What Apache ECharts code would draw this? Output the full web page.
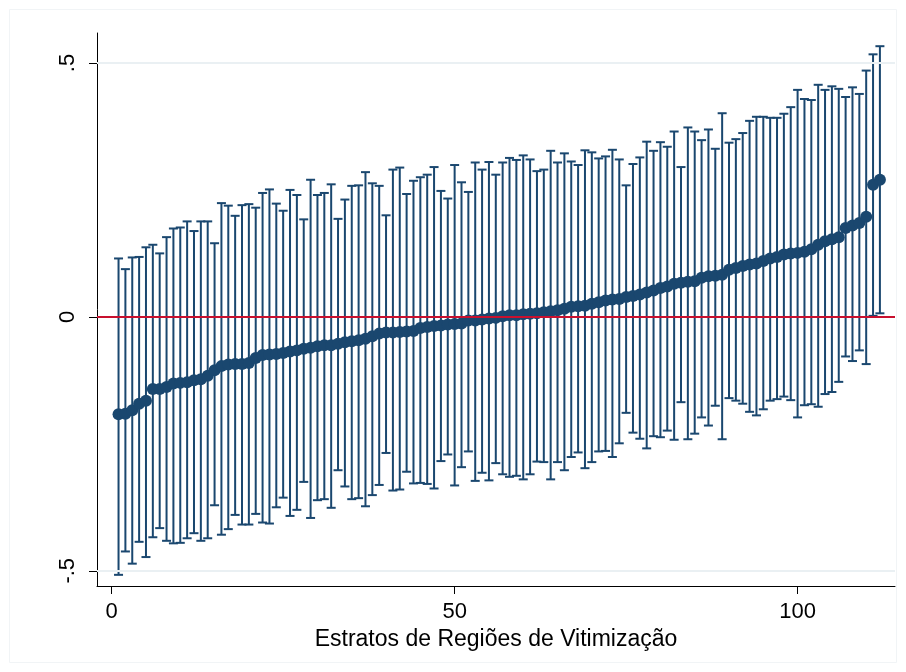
<!DOCTYPE html>
<html>
<head>
<meta charset="utf-8">
<script src="https://cdn.jsdelivr.net/npm/echarts@6/dist/echarts.min.js"></script>
<style>
  html, body { margin: 0; padding: 0; background: #ffffff; }
  #chart { width: 906px; height: 672px; }
</style>
</head>
<body>
<div id="chart"></div>
<script>
// Stratum index (1..112), point estimate and 95% interval bounds
const strata = Array.from({ length: 112 }, (_, i) => i + 1);

const estimate = [
  -0.192, -0.191, -0.184, -0.171, -0.165, -0.142, -0.142, -0.138, -0.131, -0.130,
  -0.129, -0.125, -0.123, -0.116, -0.105, -0.097, -0.094, -0.093, -0.093, -0.091,
  -0.081, -0.075, -0.074, -0.073, -0.071, -0.068, -0.066, -0.063, -0.061, -0.058,
  -0.056, -0.056, -0.053, -0.050, -0.048, -0.046, -0.043, -0.038, -0.033, -0.031,
  -0.031, -0.030, -0.029, -0.028, -0.022, -0.020, -0.018, -0.017, -0.015, -0.014,
  -0.013, -0.007, -0.007, -0.005, -0.003, -0.002, 0.001, 0.003, 0.003, 0.005,
  0.006, 0.007, 0.009, 0.011, 0.013, 0.016, 0.020, 0.021, 0.022, 0.026,
  0.029, 0.032, 0.034, 0.035, 0.039, 0.041, 0.044, 0.048, 0.052, 0.057,
  0.060, 0.065, 0.067, 0.069, 0.070, 0.077, 0.080, 0.081, 0.083, 0.093,
  0.096, 0.100, 0.103, 0.105, 0.110, 0.115, 0.118, 0.123, 0.125, 0.126,
  0.128, 0.133, 0.142, 0.149, 0.153, 0.157, 0.175, 0.180, 0.185, 0.197,
  0.260, 0.270
];

const upper = [
  0.115, 0.094, 0.117, 0.118, 0.137, 0.142, 0.125, 0.157, 0.174, 0.176,
  0.188, 0.169, 0.188, 0.188, 0.145, 0.224, 0.219, 0.199, 0.220, 0.222,
  0.215, 0.244, 0.251, 0.223, 0.209, 0.250, 0.240, 0.192, 0.270, 0.240,
  0.244, 0.261, 0.193, 0.231, 0.258, 0.259, 0.285, 0.263, 0.258, 0.200,
  0.290, 0.294, 0.242, 0.268, 0.275, 0.280, 0.295, 0.248, 0.233, 0.299,
  0.265, 0.246, 0.304, 0.290, 0.305, 0.280, 0.304, 0.313, 0.309, 0.318,
  0.310, 0.287, 0.290, 0.327, 0.304, 0.322, 0.306, 0.299, 0.328, 0.324,
  0.312, 0.316, 0.329, 0.310, 0.259, 0.301, 0.314, 0.345, 0.327, 0.344,
  0.335, 0.365, 0.295, 0.373, 0.365, 0.348, 0.369, 0.331, 0.401, 0.343,
  0.350, 0.362, 0.386, 0.394, 0.394, 0.392, 0.392, 0.400, 0.413, 0.447,
  0.429, 0.427, 0.457, 0.447, 0.454, 0.449, 0.433, 0.452, 0.439, 0.485,
  0.517, 0.533
];

const lower = [
  -0.508, -0.462, -0.486, -0.443, -0.473, -0.434, -0.416, -0.441, -0.446, -0.445,
  -0.436, -0.426, -0.441, -0.436, -0.371, -0.429, -0.418, -0.390, -0.409, -0.409,
  -0.388, -0.405, -0.407, -0.375, -0.356, -0.392, -0.380, -0.325, -0.396, -0.361,
  -0.359, -0.376, -0.302, -0.334, -0.359, -0.357, -0.373, -0.351, -0.331, -0.268,
  -0.342, -0.340, -0.305, -0.328, -0.327, -0.329, -0.338, -0.284, -0.271, -0.332,
  -0.296, -0.265, -0.323, -0.307, -0.322, -0.288, -0.310, -0.315, -0.313, -0.320,
  -0.310, -0.285, -0.286, -0.320, -0.286, -0.302, -0.276, -0.267, -0.298, -0.286,
  -0.265, -0.264, -0.276, -0.249, -0.189, -0.228, -0.240, -0.259, -0.235, -0.237,
  -0.224, -0.242, -0.168, -0.241, -0.230, -0.198, -0.214, -0.175, -0.241, -0.160,
  -0.165, -0.171, -0.187, -0.194, -0.182, -0.165, -0.162, -0.157, -0.164, -0.198,
  -0.174, -0.172, -0.177, -0.152, -0.148, -0.128, -0.078, -0.087, -0.066, -0.093,
  0.002, 0.007
];

const xTicks = [0, 50, 100];
const yTicks = [-0.5, 0, 0.5];
const yTickText = { '-0.5': '-.5', '0': '0', '0.5': '.5' };

const navy = '#1a476f';
const font = 'Liberation Sans, Arial, Helvetica, sans-serif';

const intervalData = strata.map((x, i) => [x, lower[i], upper[i]]);
const pointData = strata.map((x, i) => [x, estimate[i]]);

const chart = echarts.init(document.getElementById('chart'), null, { renderer: 'canvas' });

chart.setOption({
  backgroundColor: '#ffffff',
  animation: false,
  graphic: [{
    type: 'rect',
    shape: { x: 9.5, y: 9.5, width: 887, height: 653 },
    style: { fill: 'none', stroke: '#f1f4f6', lineWidth: 1 },
    z: -10
  }],
  grid: { left: 97, right: 11, top: 33, bottom: 86 },
  xAxis: {
    type: 'value',
    min: -2.14,
    max: 114.2,
    name: 'Estratos de Regiões de Vitimização',
    nameLocation: 'middle',
    nameGap: 38,
    nameTextStyle: { fontFamily: font, fontSize: 23, color: '#000000' },
    axisLine: { show: true, onZero: false, lineStyle: { color: '#000000', width: 1 } },
    axisTick: { show: true, customValues: xTicks, length: 8, lineStyle: { color: '#000000' } },
    axisLabel: { customValues: xTicks, fontFamily: font, fontSize: 22, color: '#000000', margin: 15 },
    splitLine: { show: false }
  },
  yAxis: {
    type: 'value',
    min: -0.53,
    max: 0.559,
    axisLine: { show: true, onZero: false, lineStyle: { color: '#000000', width: 1 } },
    axisTick: { show: true, customValues: yTicks, length: 8, lineStyle: { color: '#000000' } },
    axisLabel: {
      customValues: yTicks,
      rotate: 90,
      fontFamily: font,
      fontSize: 22,
      color: '#000000',
      margin: 18,
      formatter: v => yTickText[String(Math.round(v * 10) / 10)] ?? String(v)
    },
    splitLine: { show: false }
  },
  series: [
    {
      // horizontal grid lines and reference line at zero
      type: 'line',
      data: [],
      z: 1,
      silent: true,
      markLine: {
        silent: true,
        symbol: 'none',
        label: { show: false },
        data: [
          { yAxis: 0.5, lineStyle: { color: '#eaf0f3', width: 2, type: 'solid' } },
          { yAxis: -0.5, lineStyle: { color: '#eaf0f3', width: 2, type: 'solid' } },
          { yAxis: 0, lineStyle: { color: '#c8102e', width: 2, type: 'solid' } }
        ]
      }
    },
    {
      // confidence intervals with caps
      type: 'custom',
      z: 2,
      silent: true,
      data: intervalData,
      renderItem: function (params, api) {
        const x = api.value(0);
        const lo = api.coord([x, api.value(1)]);
        const hi = api.coord([x, api.value(2)]);
        const cap = 4.5;
        const style = { stroke: navy, lineWidth: 2, fill: null };
        return {
          type: 'group',
          children: [
            { type: 'line', shape: { x1: lo[0], y1: lo[1], x2: hi[0], y2: hi[1] }, style: style },
            { type: 'line', shape: { x1: hi[0] - cap, y1: hi[1], x2: hi[0] + cap, y2: hi[1] }, style: style },
            { type: 'line', shape: { x1: lo[0] - cap, y1: lo[1], x2: lo[0] + cap, y2: lo[1] }, style: style }
          ]
        };
      }
    },
    {
      type: 'scatter',
      z: 3,
      silent: true,
      data: pointData,
      symbol: 'circle',
      symbolSize: 12,
      itemStyle: { color: navy, opacity: 1 }
    }
  ]
});
</script>
</body>
</html>
